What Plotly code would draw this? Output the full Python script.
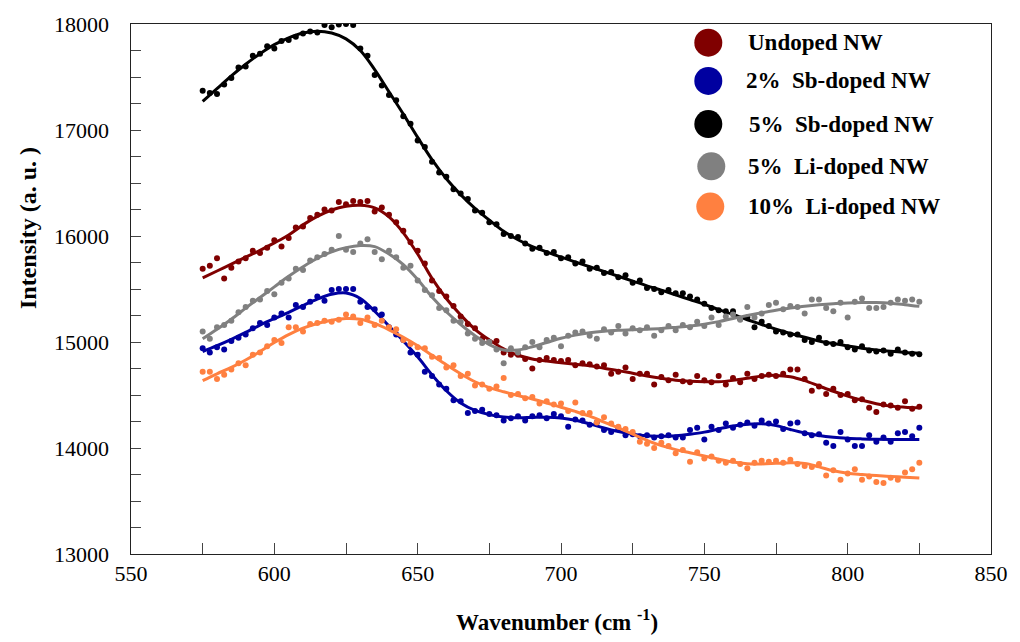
import plotly.graph_objects as go

# Raman spectra of ZnO nanowires: measured points and smoothed fits
wavenumber = [575 + 2.5 * i for i in range(101)]    # measured points, 2.5 cm-1 step
fit_wavenumber = [575 + 5 * i for i in range(51)]   # smoothed fit, 5 cm-1 step

undoped_pts = [
    15690, 15720, 15790, 15600, 15700, 15760, 15790, 15860, 15840, 15890,
    15960, 15900, 15980, 16080, 16090, 16170, 16200, 16250, 16240, 16320,
    16300, 16330, 16320, 16330, 16230, 16270, 16200, 16130, 16050, 15940,
    15860, 15740, 15580, 15480, 15430, 15340, 15240, 15170, 15130, 15030,
    15000, 15010, 14900, 14880, 14880, 14840, 14750, 14830, 14850, 14830,
    14820, 14830, 14780, 14800, 14790, 14770, 14780, 14700, 14720, 14760,
    14650, 14700, 14700, 14600, 14670, 14640, 14690, 14630, 14620, 14680,
    14640, 14620, 14680, 14600, 14660, 14620, 14700, 14650, 14680, 14690,
    14680, 14700, 14740, 14740, 14650, 14540, 14580, 14510, 14560, 14500,
    14510, 14450, 14460, 14380, 14340, 14410, 14400, 14380, 14440, 14370,
    14390]
sb2_pts = [
    14940, 14900, 14950, 14930, 15010, 15040, 15070, 15130, 15180, 15160,
    15230, 15270, 15230, 15350, 15330, 15380, 15430, 15390, 15490, 15500,
    15500, 15500, 15380, 15330, 15310, 15260, 15140, 15070, 15020, 14900,
    14880, 14720, 14680, 14600, 14560, 14450, 14440, 14330, 14350, 14360,
    14320, 14310, 14260, 14280, 14300, 14260, 14300, 14310, 14280, 14320,
    14300, 14200, 14270, 14260, 14220, 14240, 14170, 14150, 14180, 14120,
    14130, 14110, 14120, 14100, 14110, 14120, 14100, 14100, 14170, 14190,
    14080, 14200, 14170, 14230, 14190, 14220, 14240, 14210, 14260, 14230,
    14250, 14180, 14230, 14240, 14140, 14120, 14130, 14050, 14020, 14150,
    14080, 14020, 14020, 14120, 14060, 14100, 14060, 14140, 14150, 14110,
    14190]
sb5_pts = [
    17370, 17350, 17340, 17430, 17490, 17590, 17600, 17700, 17720, 17790,
    17770, 17840, 17850, 17880, 17910, 17930, 17920, 17990, 17970, 17995,
    18000, 17990, 17770, 17700, 17520, 17420, 17330, 17280, 17130, 17060,
    16900, 16840, 16700, 16600, 16560, 16440, 16400, 16350, 16240, 16220,
    16130, 16110, 16020, 16000, 15990, 15930, 15880, 15890, 15840, 15850,
    15790, 15800, 15740, 15760, 15690, 15700, 15650, 15660, 15610, 15630,
    15560, 15580, 15510, 15500, 15470, 15490, 15460, 15460, 15430, 15400,
    15360, 15320, 15300, 15290, 15290, 15220, 15230, 15140, 15190, 15150,
    15100, 15090, 15070, 15070, 15020, 15000, 15040, 14990, 14980, 15000,
    14950, 14930, 14960, 14920, 14910, 14920, 14890, 14930, 14900, 14890,
    14885]
li5_pts = [
    15100, 15030, 15140, 15160, 15200, 15280, 15330, 15390, 15400, 15480,
    15450, 15560, 15600, 15690, 15680, 15770, 15800, 15830, 15870, 16000,
    15870, 15850, 15930, 15970, 15850, 15780, 15860, 15800, 15700, 15720,
    15580, 15490, 15440, 15320, 15300, 15200, 15190, 15080, 15030, 14990,
    15000, 14930, 14800, 14940, 14900, 14950, 15000, 14950, 15020, 15040,
    14960, 15060, 15090, 15100, 15060, 15030, 15120, 15090, 15150, 15080,
    15130, 15110, 15140, 15060, 15110, 15150, 15110, 15160, 15140, 15190,
    15150, 15230, 15160, 15240, 15260, 15210, 15330, 15230, 15270, 15350,
    15370, 15310, 15340, 15330, 15270, 15400, 15400, 15320, 15290, 15370,
    15230, 15380, 15410, 15320, 15320, 15330, 15370, 15400, 15390, 15400,
    15380]
li10_pts = [
    14720, 14720, 14650, 14690, 14740, 14800, 14780, 14880, 14900, 14960,
    15020, 14990, 15140, 15140, 15100, 15170, 15180, 15200, 15190, 15210,
    15260, 15240, 15180, 15230, 15160, 15200, 15140, 15120, 15020, 14980,
    14950, 14940, 14860, 14850, 14760, 14780, 14680, 14700, 14590, 14600,
    14560, 14580, 14660, 14500, 14510, 14470, 14480, 14420, 14440, 14410,
    14420, 14350, 14430, 14330, 14330, 14240, 14290, 14230, 14200, 14180,
    14150, 14060, 14040, 14000, 14050, 14020, 13950, 13980, 13870, 13960,
    13900, 13920, 13880, 13860, 13880, 13850, 13810, 13860, 13880, 13870,
    13880, 13860, 13890, 13850, 13830, 13820, 13850, 13740, 13790, 13700,
    13760, 13800, 13700, 13730, 13680, 13670, 13720, 13700, 13770, 13800,
    13860]

undoped_fit = [
    15605, 15670, 15735, 15800, 15865, 15935, 16010, 16105, 16185, 16245,
    16280, 16290, 16265, 16180, 16030, 15830, 15600, 15410, 15255, 15120,
    15020, 14935, 14875, 14840, 14820, 14805, 14790, 14775, 14752, 14730,
    14705, 14680, 14658, 14640, 14630, 14625, 14625, 14638, 14658, 14678,
    14685, 14672, 14635, 14585, 14535, 14490, 14450, 14418, 14395, 14385,
    14380]
sb2_fit = [
    14910, 14965, 15025, 15090, 15160, 15220, 15280, 15345, 15405, 15450,
    15462, 15410, 15290, 15150, 15010, 14860, 14690, 14540, 14425, 14355,
    14315, 14292, 14285, 14288, 14290, 14283, 14262, 14228, 14188, 14155,
    14130, 14115, 14110, 14115, 14130, 14150, 14180, 14208, 14225, 14228,
    14212, 14175, 14142, 14118, 14102, 14092, 14086, 14082, 14080, 14080,
    14080]
sb5_fit = [
    17270, 17390, 17510, 17620, 17720, 17805, 17870, 17915, 17932, 17915,
    17860, 17750, 17570, 17360, 17150, 16930, 16720, 16540, 16390, 16260,
    16150, 16045, 15965, 15900, 15850, 15800, 15755, 15710, 15665, 15620,
    15575, 15530, 15490, 15445, 15400, 15355, 15305, 15260, 15210, 15165,
    15120, 15080, 15045, 15010, 14985, 14962, 14942, 14925, 14912, 14902,
    14895]
li5_fit = [
    15030, 15120, 15215, 15320, 15420, 15520, 15620, 15710, 15790, 15850,
    15890, 15910, 15900, 15830, 15730, 15590, 15425, 15285, 15165, 15060,
    14975, 14925, 14925, 14955, 14995, 15035, 15065, 15088, 15102, 15110,
    15115, 15120, 15127, 15138, 15150, 15168, 15192, 15222, 15250, 15276,
    15300, 15320, 15338, 15352, 15362, 15368, 15372, 15372, 15366, 15352,
    15336]
li10_fit = [
    14635, 14700, 14760, 14830, 14910, 14995, 15070, 15130, 15175, 15205,
    15222, 15215, 15175, 15115, 15045, 14965, 14875, 14785, 14700, 14625,
    14570, 14530, 14495, 14462, 14425, 14385, 14345, 14300, 14245, 14190,
    14130, 14072, 14022, 13985, 13955, 13925, 13895, 13868, 13852, 13850,
    13855, 13860, 13855, 13822, 13785, 13762, 13750, 13740, 13732, 13724,
    13716]

# axis ticks: every tick mark position, labels only on the major ones
x_tick_vals = [550 + 25 * i for i in range(13)]
x_tick_text = [str(v) if v % 50 == 0 else "" for v in x_tick_vals]
y_tick_vals = [13000 + 250 * i for i in range(21)]
y_tick_text = [str(v) + "\u00a0\u00a0\u00a0" if v % 1000 == 0 else "" for v in y_tick_vals]

series_names = ["Undoped NW", "2%\u00a0 Sb-doped NW", "5%\u00a0 Sb-doped NW",
                "5%\u00a0 Li-doped NW", "10%\u00a0 Li-doped NW"]
series_colors = ["#800000", "#0000A0", "#000000", "#808080", "#FF8040"]
series_points = [undoped_pts, sb2_pts, sb5_pts, li5_pts, li10_pts]
series_fits = [undoped_fit, sb2_fit, sb5_fit, li5_fit, li10_fit]

SERIF = "Liberation Serif"

fig = go.Figure()
for name, color, pts, fit in zip(series_names, series_colors, series_points, series_fits):
    fig.add_trace(go.Scatter(
        x=wavenumber, y=pts, mode="markers", name=name,
        marker=dict(size=6, color=color), showlegend=False))
    fig.add_trace(go.Scatter(
        x=fit_wavenumber, y=fit, mode="lines", name=name + " fit",
        line=dict(color=color, width=3, shape="spline", smoothing=1.0),
        showlegend=False))

# plot area in pixels: left 131, right 998, top 14, bottom 554
L, R, T, B = 131, 998, 14, 554


def px_x(p):
    return (p - L) / (R - L)


def px_y(p):
    return (B - p) / (B - T)


# legend: big filled circles on an overlay axis spanning the plot area, bold labels
legend_rows = [(713, 751, 33), (713, 749, 72), (713, 752, 116), (716, 751, 159), (715, 751, 200)]
fig.add_trace(go.Scatter(
    x=[px_x(r[0]) for r in legend_rows], y=[px_y(r[2]) for r in legend_rows],
    xaxis="x2", yaxis="y2", mode="markers", showlegend=False, hoverinfo="skip",
    marker=dict(size=28, color=series_colors, line=dict(width=0))))
for (cx, tx, cy), name in zip(legend_rows, series_names):
    fig.add_annotation(
        xref="paper", yref="paper", x=px_x(tx), y=px_y(cy),
        xanchor="left", yanchor="middle", showarrow=False,
        text="<b>" + name + "</b>",
        font=dict(family=SERIF, size=23, color="black"))

fig.add_annotation(
    xref="paper", yref="paper", x=px_x(27), y=px_y(222),
    xanchor="center", yanchor="middle", showarrow=False, textangle=-90,
    text="<b>Intensity (a. u. )</b>",
    font=dict(family=SERIF, size=24, color="black"))
fig.add_annotation(
    xref="paper", yref="paper", x=px_x(560), y=px_y(622),
    xanchor="center", yanchor="middle", showarrow=False,
    text="<b>Wavenumber (cm <sup>-1</sup>)</b>",
    font=dict(family=SERIF, size=23, color="black"))

fig.update_layout(
    width=1020, height=642,
    margin=dict(l=L, r=1020 - R, t=T, b=642 - B),
    plot_bgcolor="white",
    showlegend=False,
    xaxis2=dict(overlaying="x", range=[0, 1], visible=False),
    yaxis2=dict(overlaying="y", range=[0, 1], visible=False),
)
fig.layout.xaxis.update(
    range=[550, 850], tickmode="array", tickvals=x_tick_vals, ticktext=x_tick_text,
    ticks="inside", ticklen=11,
    showline=True, linecolor="#222", mirror=True,
    showgrid=False, zeroline=False,
    tickfont=dict(family=SERIF, size=22, color="black"),
)
fig.layout.yaxis.update(
    range=[13000, 18000], tickmode="array", tickvals=y_tick_vals, ticktext=y_tick_text,
    ticks="inside", ticklen=10,
    showline=True, linecolor="#222", mirror=True,
    showgrid=False, zeroline=False,
    tickfont=dict(family=SERIF, size=22, color="black"),
)

fig.write_html("out.html")
